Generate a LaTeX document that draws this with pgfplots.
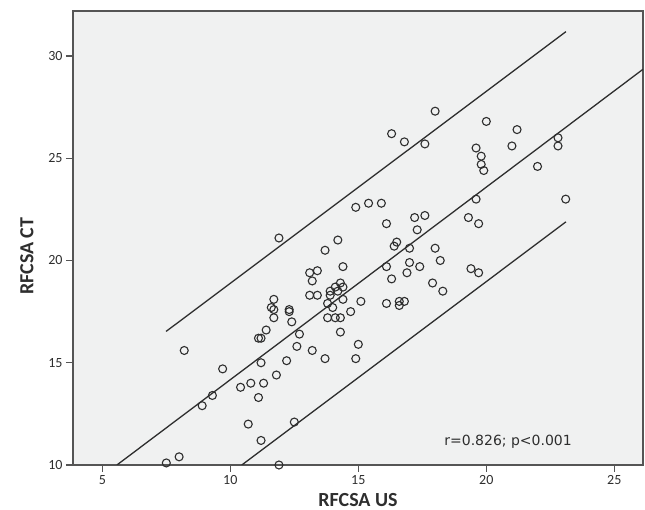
\documentclass[border=0pt]{standalone}
\usepackage{fontspec}
\setmainfont{Carlito}
\newfontfamily\annfont{DejaVu Sans}
\usepackage{pgfplots}
\pgfplotsset{compat=1.18}

\definecolor{plotbg}{HTML}{F0F1F1}
\definecolor{frame}{HTML}{555555}
\definecolor{ink}{HTML}{2E2E2E}

\begin{document}
\begin{tikzpicture}
% page = 645 x 510 units, axis box 570 x 454
\useasboundingbox (-73pt,-45pt) rectangle (572pt,465pt);
\begin{axis}[
    scale only axis,
    width=570pt, height=454pt,
    xmin=3.855, xmax=26.12,
    ymin=10, ymax=32.2,
    xtick={5,10,15,20,25},
    ytick={10,15,20,25,30},
    tick pos=left,
    tick align=outside,
    major tick length=7pt,
    axis line style={frame, line width=1.4pt},
    every tick/.style={frame, line width=1.2pt},
    axis background/.style={fill=plotbg},
    ticklabel style={font=\fontsize{14}{16}\selectfont, text=ink},
    /pgf/number format/assume math mode=true,
    xlabel={RFCSA US},
    ylabel={RFCSA CT},
    label style={font=\fontsize{20}{22}\selectfont\bfseries, text=ink},
    xlabel style={at={(axis description cs:0.5,-0.077)}, anchor=center},
    ylabel style={at={(axis description cs:-0.081,0.46)}, anchor=center},
    clip=true,
    clip mode=individual,
]
% prediction band and fit line
\addplot[ink, line width=1.3pt, no markers] coordinates {(7.49,16.53) (23.11,31.19)};
\addplot[ink, line width=1.3pt, no markers] coordinates {(5.57,10) (26.12,29.35)};
\addplot[ink, line width=1.3pt, no markers] coordinates {(10.45,10) (23.11,21.89)};

\addplot[only marks, mark=o, mark size=4pt, mark options={ink, line width=1.1pt}] coordinates {
(7.5,10.1) (8.0,10.4) (8.2,15.6) (8.9,12.9) (9.3,13.4) (9.7,14.7)
(10.4,13.8) (10.7,12.0) (10.8,14.0) (11.1,13.3) (11.1,16.2) (11.2,16.2)
(11.2,15.0) (11.2,11.2) (11.3,14.0) (11.4,16.6) (11.6,17.7) (11.7,17.6)
(11.7,18.1) (11.7,17.2) (11.8,14.4) (11.9,10.0) (11.9,21.1) (12.2,15.1)
(12.3,17.6) (12.3,17.5) (12.4,17.0) (12.5,12.1) (12.6,15.8) (12.7,16.4)
(13.1,19.4) (13.1,18.3) (13.2,19.0) (13.2,15.6) (13.4,19.5) (13.4,18.3)
(13.7,20.5) (13.7,15.2) (13.8,17.9) (13.8,17.2) (13.9,18.5) (13.9,18.3)
(14.0,17.7) (14.1,18.7) (14.1,17.2) (14.2,21.0) (14.2,18.5) (14.3,18.9)
(14.3,17.2) (14.3,16.5) (14.4,19.7) (14.4,18.7) (14.4,18.1) (14.7,17.5)
(14.9,22.6) (14.9,15.2) (15.0,15.9) (15.1,18.0) (15.4,22.8) (15.9,22.8)
(16.1,21.8) (16.1,19.7) (16.1,17.9) (16.3,26.2) (16.3,19.1) (16.4,20.7)
(16.5,20.9) (16.6,18.0) (16.6,17.8) (16.8,18.0) (16.8,25.8) (16.9,19.4)
(17.0,20.6) (17.0,19.9) (17.2,22.1) (17.3,21.5) (17.4,19.7) (17.6,25.7)
(17.6,22.2) (17.9,18.9) (18.0,27.3) (18.0,20.6) (18.2,20.0) (18.3,18.5)
(19.3,22.1) (19.4,19.6) (19.6,25.5) (19.6,23.0) (19.7,21.8) (19.7,19.4)
(19.8,25.1) (19.8,24.7) (19.9,24.4) (20.0,26.8) (21.0,25.6) (21.2,26.4)
(22.0,24.6) (22.8,26.0) (22.8,25.6) (23.1,23.0)
};

\node[font=\annfont\fontsize{14}{16}\selectfont, text=ink] at (axis cs:20.85,11.15) {r=0.826; p<0.001};
\end{axis}
\end{tikzpicture}
\end{document}
